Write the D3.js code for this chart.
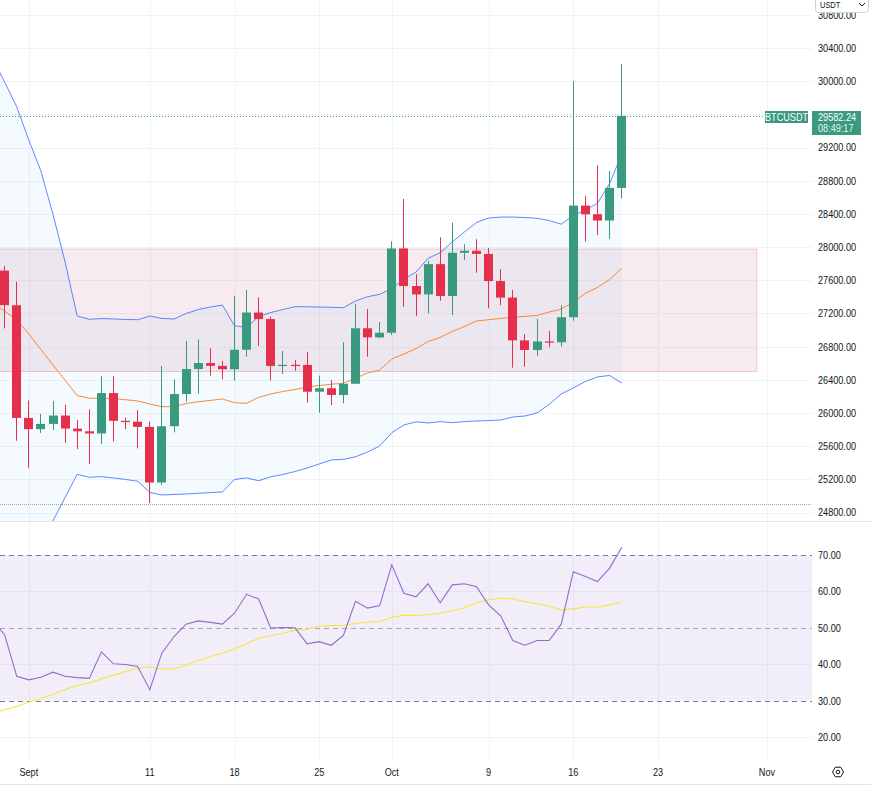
<!DOCTYPE html>
<html><head><meta charset="utf-8">
<script src="https://cdn.jsdelivr.net/npm/d3@7"></script>
<style>
html,body{margin:0;padding:0;background:#fff;overflow:hidden;}
svg{display:block;font-family:"Liberation Sans",Arial,sans-serif;}
</style></head><body>
<svg id="c" width="871" height="787"></svg>
<script>
// ---------- DATA ----------
const dates = ["2023-08-29","2023-08-30","2023-08-31",
"2023-09-01","2023-09-02","2023-09-03","2023-09-04","2023-09-05","2023-09-06","2023-09-07","2023-09-08","2023-09-09","2023-09-10",
"2023-09-11","2023-09-12","2023-09-13","2023-09-14","2023-09-15","2023-09-16","2023-09-17","2023-09-18","2023-09-19","2023-09-20",
"2023-09-21","2023-09-22","2023-09-23","2023-09-24","2023-09-25","2023-09-26","2023-09-27","2023-09-28","2023-09-29","2023-09-30",
"2023-10-01","2023-10-02","2023-10-03","2023-10-04","2023-10-05","2023-10-06","2023-10-07","2023-10-08","2023-10-09","2023-10-10",
"2023-10-11","2023-10-12","2023-10-13","2023-10-14","2023-10-15","2023-10-16","2023-10-17","2023-10-18","2023-10-19","2023-10-20"];
const open  = [26100,27716,27299,25940,25805,25868,25969,25812,25779,25753,26240,25905,25895,25832,25162,25840,26228,26530,26602,26568,26527,26762,27211,27132,26567,26580,26579,26256,26298,26217,26352,27021,26911,26967,27983,27530,27429,27794,27410,27931,27955,27917,27590,27391,26875,26759,26862,26852,27154,28500,28395,28320,28713];
const high  = [28142,27770,27582,26150,25990,26144,26100,25915,26044,26445,26445,25943,26035,25895,26566,26405,26868,26888,26779,26626,27414,27482,27394,27160,26747,26638,26735,26450,26397,26852,27310,27253,27097,28069,28580,27672,27832,28118,28294,28033,28095,27988,27732,27482,26952,27133,26988,27298,30000,28616,28985,28917,30207];
const low   = [25922,27020,25665,25340,25760,25795,25640,25565,25385,25626,25655,25806,25573,24914,25131,25766,26136,26232,26449,26405,26390,26677,26807,26390,26470,26510,26124,26003,26096,26116,26349,26678,26900,26940,27280,27170,27200,27353,27180,27844,27690,27262,27300,26546,26558,26690,26791,26800,27112,28065,28145,28097,28588];
const close = [27716,27299,25940,25805,25868,25969,25812,25779,25753,26240,25905,25895,25832,25162,25840,26228,26530,26602,26568,26527,26762,27211,27132,26567,26580,26579,26256,26298,26217,26352,27021,26911,26967,27983,27530,27429,27794,27410,27931,27955,27917,27590,27391,26875,26759,26862,26852,27154,28500,28395,28320,28713,29582.24];

const bbUpper = [30279,29990,29692,29290,28917,28393,27820,27169,27129,27138,27133,27127,27124,27169,27139,27133,27199,27247,27277,27301,27052,27030,27163,27211,27247,27281,27280,27277,27274,27269,27350,27402,27430,27500,27615,27699,27865,27932,28061,28182,28296,28350,28362,28362,28356,28347,28320,28276,28380,28447,28528,28766,29120];
const bbBasis = [27326,27229,27121,26953,26764,26578,26394,26210,26177,26177,26173,26160,26144,26108,26075,26078,26114,26135,26151,26168,26124,26116,26189,26229,26259,26283,26313,26331,26346,26358,26418,26482,26518,26650,26711,26777,26861,26910,26982,27042,27109,27124,27139,27153,27165,27175,27217,27250,27338,27443,27513,27609,27744];
const bbLower = [24373,24468,24550,24616,24611,24700,24981,25260,25224,25232,25216,25198,25177,25041,25011,25017,25023,25031,25040,25047,25198,25216,25183,25230,25258,25294,25336,25385,25433,25441,25471,25529,25602,25762,25855,25893,25879,25895,25883,25895,25903,25908,25915,25951,25963,25999,26102,26229,26301,26379,26434,26452,26360];

const rsi   = [52,48.1,36.7,35.7,36.4,37.8,36.7,36.3,36.1,43.4,40.1,39.9,39.4,33.0,43.1,47.6,51.0,51.9,51.5,51.0,54.0,59.2,57.9,49.9,50.1,50.0,45.6,46.2,45.2,47.9,57.3,55.4,56.1,67.3,59.5,58.5,62.1,56.9,61.8,62.1,61.3,56.3,53.3,46.5,45.2,46.5,46.5,51.0,65.4,64.1,62.7,66.4,72.1];
const rsiMA = [26.4,27.5,28.4,29.6,30.5,31.8,33.0,34.2,34.8,36.0,37.0,38.0,38.8,39.3,38.7,38.7,39.8,41.0,42.1,43.1,44.2,45.6,47.2,47.8,48.5,49.3,49.6,50.5,50.6,50.7,51.2,51.6,51.8,52.9,53.4,53.4,53.6,54.0,54.7,55.5,56.9,57.7,58.1,58.0,57.2,56.6,56.0,54.9,55.2,55.7,55.7,56.3,57.1];

const priceTicks = [24800,25200,25600,26000,26400,26800,27200,27600,28000,28400,28800,29200,29600,30000,30400,30800];
const priceTickHidden = [29600]; // covered by last-price label
const rsiTicks = [20,30,40,50,60,70];
const rsiBands = [70,50,30];
const xTickDates = ["2023-09-01","2023-09-11","2023-09-18","2023-09-25","2023-10-01","2023-10-09","2023-10-16","2023-10-23","2023-11-01"];
const xTickLabels = ["Sept","11","18","25","Oct","9","16","23","Nov"];

const zone = {from:"2023-08-20", to:"2023-10-31T04:00", top:27975, bottom:26500};
const lowLine = 24902;
const lastPrice = 29582.24;
const lastPriceText = "29582.24";
const countdown = "08:49:17";
const symbol = "BTCUSDT";
const currency = "USDT";

// ---------- SETUP ----------
const svg = d3.select("#c");
const plotR = 812, paneBot = 521.5, rsiTop = 522, rsiBot = 760, axisBot = 784;
const UP = "#3a9a80", DN = "#e5304b";
const SX = 0.83; // condensed look of the axis font
const parse = s => new Date(s.length > 10 ? s + "Z" : s + "T00:00:00Z");

const x = d3.scaleUtc().domain([parse("2023-08-30"), parse("2023-10-20")]).range([4.6, 621.7]);
const y = d3.scaleLinear().domain([24800, 30800]).range([512.5, 14.8]);
const yR = d3.scaleLinear().domain([20, 70]).range([737, 555]);

const bars = dates.map((d,i)=>({d:parse(d),o:open[i],h:high[i],l:low[i],c:close[i],
  u:bbUpper[i],b:bbBasis[i],lo:bbLower[i],r:rsi[i],m:rsiMA[i]}));

const defs = svg.append("defs");
defs.append("clipPath").attr("id","cp").append("rect").attr("x",0).attr("y",0).attr("width",plotR).attr("height",paneBot);
defs.append("clipPath").attr("id","cr").append("rect").attr("x",0).attr("y",rsiTop).attr("width",plotR).attr("height",rsiBot-rsiTop);

// ---------- GRID ----------
const grid = svg.append("g");
grid.selectAll("line.h").data(priceTicks).join("line")
  .attr("x1",0).attr("x2",plotR).attr("y1",d=>Math.round(y(d))+0.5).attr("y2",d=>Math.round(y(d))+0.5)
  .attr("stroke","#f0f3fa");
grid.selectAll("line.r").data([20,40,60]).join("line")
  .attr("x1",0).attr("x2",plotR).attr("y1",d=>Math.round(yR(d))+0.5).attr("y2",d=>Math.round(yR(d))+0.5)
  .attr("stroke","#f0f3fa");
grid.selectAll("line.v").data(xTickDates).join("line")
  .attr("x1",d=>Math.round(x(parse(d)))+0.5).attr("x2",d=>Math.round(x(parse(d)))+0.5)
  .attr("y1",0).attr("y2",rsiBot).attr("stroke","#f0f3fa");

// ---------- PRICE PANE ----------
const pp = svg.append("g").attr("clip-path","url(#cp)");
pp.append("rect")
  .attr("x", x(parse(zone.from))).attr("y", y(zone.top))
  .attr("width", x(parse(zone.to)) - x(parse(zone.from)))
  .attr("height", y(zone.bottom) - y(zone.top))
  .attr("fill","rgba(190,100,140,0.13)").attr("stroke","#f2c4d0").attr("stroke-width",1);

pp.append("path").datum(bars)
  .attr("d", d3.area().x(d=>x(d.d)).y0(d=>y(d.lo)).y1(d=>y(d.u)))
  .attr("fill","rgba(33,150,243,0.05)");
const lineOf = k => d3.line().x(d=>x(d.d)).y(d=>y(d[k]));
pp.append("path").datum(bars).attr("d",lineOf("u")).attr("fill","none").attr("stroke","#2962FF").attr("stroke-opacity",0.75).attr("stroke-width",1);
pp.append("path").datum(bars).attr("d",lineOf("lo")).attr("fill","none").attr("stroke","#2962FF").attr("stroke-opacity",0.75).attr("stroke-width",1);
pp.append("path").datum(bars).attr("d",lineOf("b")).attr("fill","none").attr("stroke","#FF6D00").attr("stroke-opacity",0.8).attr("stroke-width",1);

pp.append("line").attr("x1",0).attr("x2",plotR)
  .attr("y1",Math.round(y(lowLine))+0.5).attr("y2",Math.round(y(lowLine))+0.5)
  .attr("stroke","#a3a6af").attr("stroke-dasharray","1 1");

const cg = pp.append("g");
const bw = 9;
bars.forEach(b=>{
  const cx = x(b.d);
  const col = b.c >= b.o ? UP : DN;
  cg.append("rect").attr("x",Math.floor(cx)).attr("width",1)
    .attr("y",y(b.h)).attr("height",Math.max(1,y(b.l)-y(b.h))).attr("fill",col);
  const yt = y(Math.max(b.o,b.c)), yb = y(Math.min(b.o,b.c));
  cg.append("rect").attr("x",Math.round(cx-bw/2)).attr("width",bw)
    .attr("y",yt).attr("height",Math.max(1.2,yb-yt)).attr("fill",col);
});

pp.append("line").attr("x1",0).attr("x2",765)
  .attr("y1",Math.round(y(lastPrice))+0.5).attr("y2",Math.round(y(lastPrice))+0.5)
  .attr("stroke",UP).attr("stroke-dasharray","1 2");

svg.append("line").attr("x1",0).attr("x2",871).attr("y1",521.5).attr("y2",521.5).attr("stroke","#e0e3eb");
svg.append("line").attr("x1",0).attr("x2",871).attr("y1",axisBot+0.5).attr("y2",axisBot+0.5).attr("stroke","#e0e3eb");

// ---------- RSI PANE ----------
const rp = svg.append("g").attr("clip-path","url(#cr)");
rp.append("rect").attr("x",0).attr("width",plotR).attr("y",yR(70)).attr("height",yR(30)-yR(70))
  .attr("fill","rgba(126,87,194,0.1)");
rp.selectAll("line.band").data(rsiBands).join("line")
  .attr("x1",0).attr("x2",plotR).attr("y1",d=>Math.round(yR(d))+0.5).attr("y2",d=>Math.round(yR(d))+0.5)
  .attr("stroke",d=>d===50?"rgba(120,123,134,0.6)":"#787b86").attr("stroke-dasharray","5 4");
rp.append("path").datum(bars).attr("d",d3.line().x(d=>x(d.d)).y(d=>yR(d.m)))
  .attr("fill","none").attr("stroke","#f5e53c").attr("stroke-width",1.1);
rp.append("path").datum(bars).attr("d",d3.line().x(d=>x(d.d)).y(d=>yR(d.r)))
  .attr("fill","none").attr("stroke","#7E57C2").attr("stroke-opacity",0.85).attr("stroke-width",1.1);

// ---------- AXES ----------
const fmt = d3.format(".2f");
const ax = svg.append("g").attr("font-size","11px").attr("fill","#131722");
const tr = (px,py) => `translate(${px},${py}) scale(${SX},1)`;
ax.selectAll("text.p").data(priceTicks.filter(t=>!priceTickHidden.includes(t))).join("text")
  .attr("transform",d=>tr(818,y(d))).attr("dy","0.36em").text(d=>fmt(d));
ax.selectAll("text.r").data(rsiTicks).join("text")
  .attr("transform",d=>tr(818,yR(d))).attr("dy","0.36em").text(d=>fmt(d));
ax.selectAll("text.x").data(xTickDates).join("text")
  .attr("transform",d=>tr(x(parse(d)),772)).attr("dy","0.36em").attr("text-anchor","middle")
  .text((d,i)=>xTickLabels[i]);

// last price label
const ly = Math.round(y(lastPrice));
svg.append("rect").attr("x",812).attr("y",ly-5).attr("width",49).attr("height",24).attr("fill",UP);
svg.append("text").attr("transform",tr(818,ly+1)).attr("dy","0.36em").attr("font-size","11px").attr("fill","#fff").text(lastPriceText);
svg.append("text").attr("transform",tr(818,ly+12)).attr("dy","0.36em").attr("font-size","11px").attr("fill","#fff").attr("fill-opacity",0.9).text(countdown);
svg.append("rect").attr("x",765).attr("y",ly-5).attr("width",43).attr("height",12).attr("fill",UP);
svg.append("text").attr("transform",tr(786.5,ly+1)).attr("dy","0.36em").attr("text-anchor","middle").attr("font-size","11px").attr("fill","#fff").text(symbol);

// currency button
svg.append("rect").attr("x",815.5).attr("y",-6).attr("width",53).attr("height",18.5).attr("rx",3)
  .attr("fill","#fff").attr("stroke","#d1d4dc");
svg.append("text").attr("transform",tr(820,7.5)).attr("font-size","9px").attr("fill","#131722").text(currency);
svg.append("path").attr("d","M859,3 l3,3 l3,-3").attr("fill","none").attr("stroke","#131722").attr("stroke-width",1);

// settings icon
const gx = 838, gy = 772;
const hex = d3.range(6).map(k=>{const a=Math.PI/3*k; return [gx+5.5*Math.cos(a), gy+5.5*Math.sin(a)];});
svg.append("path").attr("d","M"+hex.map(p=>p.join(",")).join("L")+"Z").attr("fill","none").attr("stroke","#131722").attr("stroke-width",1);
svg.append("circle").attr("cx",gx).attr("cy",gy).attr("r",1.8).attr("fill","none").attr("stroke","#131722").attr("stroke-width",1);
</script>
</body></html>
